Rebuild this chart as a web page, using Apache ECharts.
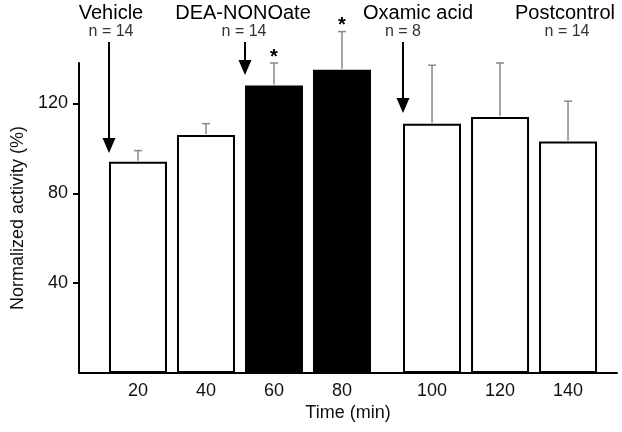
<!DOCTYPE html>
<html>
<head>
<meta charset="utf-8">
<script src="https://cdn.jsdelivr.net/npm/echarts@6/dist/echarts.min.js"></script>
<style>
html,body{margin:0;padding:0;background:#fff;}
#c{width:622px;height:432px;}
</style>
</head>
<body>
<div id="c"></div>
<script>
// ---- data ----
const times = [20, 40, 60, 80, 100, 120, 140];
const activity = [94, 106, 128, 135, 111, 114, 103];
const sem = [5, 5, 10, 17, 26, 24, 18];
const treatment = ['Vehicle', 'Vehicle', 'DEA-NONOate', 'DEA-NONOate', 'Oxamic acid', 'Oxamic acid', 'Postcontrol'];
const significant = [false, false, true, true, false, false, false];
const phase = [0, 0, 0, 0, 1, 1, 1];
const condLabels = ['Vehicle', 'DEA-NONOate', 'Oxamic acid', 'Postcontrol'];
const condN = [14, 14, 8, 14];
const yTicks = [40, 80, 120];
const xTitle = 'Time (min)';
const yTitle = 'Normalized activity (%)';

// ---- layout / style ----
const FONT = 'Liberation Sans, Arial, sans-serif';
const fills = { 'DEA-NONOate': '#000' };
const gridTop = 63, gridBottom = 59;
const grids = [
  { left: 79, right: 235, xmin: 2.65, xmax: 93.24 },
  { left: 387, right: 5, xmin: 86.76, xmax: 154.4 }
];

function idxOf(p) { return times.map((t, i) => i).filter(i => phase[i] === p); }

const option = {
  animation: false,
  backgroundColor: '#fff',
  grid: grids.map(g => ({ left: g.left, right: g.right, top: gridTop, bottom: gridBottom, containLabel: false })),
  xAxis: grids.map((g, gi) => ({
    type: 'value', gridIndex: gi, min: g.xmin, max: g.xmax,
    axisLine: { show: true, lineStyle: { color: '#000', width: 2 } },
    axisTick: { show: false },
    splitLine: { show: false },
    axisLabel: {
      customValues: idxOf(gi).map(i => times[i]),
      color: '#111', fontFamily: FONT, fontSize: 18, margin: 9
    }
  })),
  yAxis: grids.map((g, gi) => ({
    type: 'value', gridIndex: gi, min: 0, max: 138, interval: 40,
    show: gi === 0,
    name: gi === 0 ? yTitle : '',
    nameLocation: 'middle', nameGap: 52,
    nameTextStyle: { color: '#111', fontFamily: FONT, fontSize: 18 },
    axisLine: { show: true, lineStyle: { color: '#000', width: 2 } },
    axisTick: { show: true, inside: false, length: 6, customValues: yTicks, lineStyle: { color: '#000', width: 2 } },
    splitLine: { show: false },
    axisLabel: { customValues: yTicks, color: '#111', fontFamily: FONT, fontSize: 18, margin: 11 }
  })),
  series: []
};

grids.forEach((g, gi) => {
  const ids = idxOf(gi);
  option.series.push({
    type: 'bar', xAxisIndex: gi, yAxisIndex: gi, barWidth: 58,
    data: ids.map(i => ({
      value: [times[i], activity[i]],
      itemStyle: { color: fills[treatment[i]] || '#fff', borderColor: '#000', borderWidth: 2 }
    })),
    z: 2
  });
  option.series.push({
    type: 'custom', xAxisIndex: gi, yAxisIndex: gi, clip: false, z: 3,
    data: ids.map(i => [times[i], activity[i], sem[i], significant[i] ? 1 : 0]),
    renderItem: function (params, api) {
      const x = api.value(0), y = api.value(1), e = api.value(2), s = api.value(3);
      const p0 = api.coord([x, y]);
      const p1 = api.coord([x, y + e]);
      const children = [
        { type: 'line', shape: { x1: p0[0], y1: p0[1] - 1, x2: p1[0], y2: p1[1] }, style: { stroke: '#888', lineWidth: 1.5 } },
        { type: 'line', shape: { x1: p1[0] - 4, y1: p1[1], x2: p1[0] + 4, y2: p1[1] }, style: { stroke: '#888', lineWidth: 1.5 } }
      ];
      if (s) {
        children.push({ type: 'text', x: p1[0], y: p1[1] - 6,
          style: { text: '*', fill: '#000', font: 'bold 20px ' + FONT, align: 'center', verticalAlign: 'middle' } });
      }
      return { type: 'group', children: children };
    }
  });
});

// annotations (labels + arrows)
const annX = [111, 243, 418, 565];
const nX = [111, 244, 403, 567];
const arrows = [
  { x: 109, y0: 42, tip: 153 },
  { x: 245, y0: 42, tip: 75 },
  { x: 403, y0: 42, tip: 113 }
];
const graphic = [];
condLabels.forEach((lab, k) => {
  graphic.push({ type: 'text', x: annX[k], y: 13, style: { text: lab, fill: '#000', font: '20px ' + FONT, align: 'center', verticalAlign: 'middle' } });
  graphic.push({ type: 'text', x: nX[k], y: 32, style: { text: 'n = ' + condN[k], fill: '#333', font: '16px ' + FONT, align: 'center', verticalAlign: 'middle' } });
});
arrows.forEach(a => {
  graphic.push({ type: 'line', shape: { x1: a.x, y1: a.y0, x2: a.x, y2: a.tip - 12 }, style: { stroke: '#000', lineWidth: 2 } });
  graphic.push({ type: 'polygon', shape: { points: [[a.x - 6.5, a.tip - 15], [a.x + 6.5, a.tip - 15], [a.x, a.tip]] }, style: { fill: '#000' } });
});
graphic.push({ type: 'text', x: 348, y: 413, style: { text: xTitle, fill: '#111', font: '18px ' + FONT, align: 'center', verticalAlign: 'middle' } });
option.graphic = graphic;

const chart = echarts.init(document.getElementById('c'), null, { renderer: 'canvas' });
chart.setOption(option);
</script>
</body>
</html>
